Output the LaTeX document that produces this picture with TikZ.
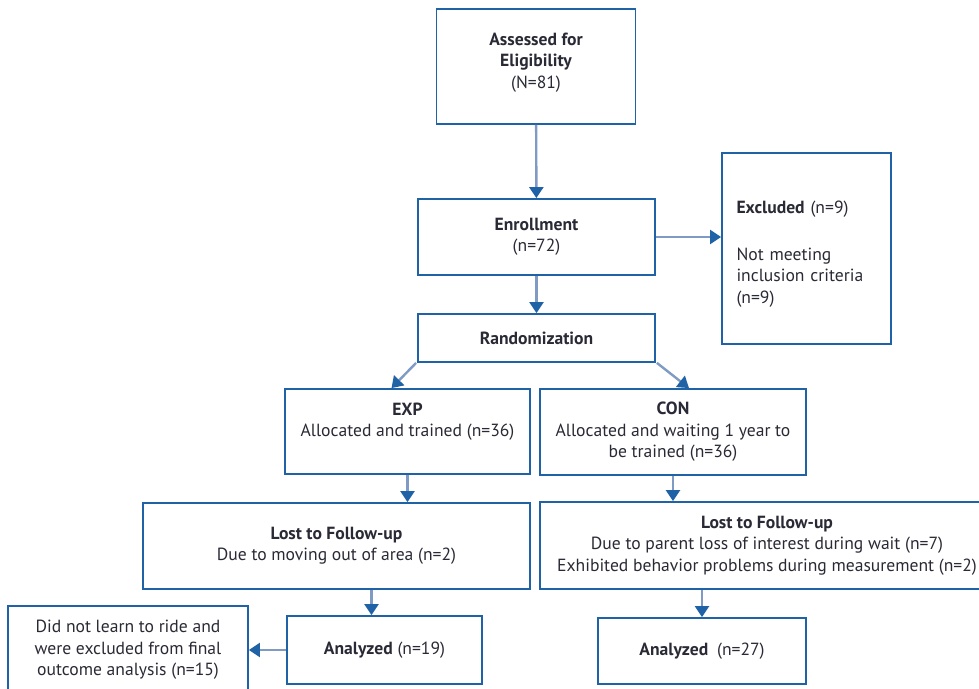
\documentclass[tikz,border=0pt]{standalone}
\usepackage{fontspec}
\setmainfont{PT Sans}
\usetikzlibrary{arrows.meta,calc}
\definecolor{boxblue}{HTML}{1F62A6}
\definecolor{lineblue}{HTML}{7F9BC4}
\definecolor{inkgrey}{HTML}{2A2A36}
\tikzset{
  box/.style={draw=boxblue,line width=1.8pt,align=center,text=inkgrey,
    font=\fontsize{17.6}{21.5}\selectfont,inner sep=2pt},
  flow/.style={draw=lineblue,line width=2.4pt,
    -{Triangle[width=14pt,length=11pt,color=boxblue]}}
}
\begin{document}
\begin{tikzpicture}[x=1pt,y=-1pt]
      \useasboundingbox (0,0) rectangle (979,688);
      \draw
        (536,66.5) node[box,minimum width=199pt,minimum height=115pt] (assess)
          {\textbf{Assessed for}\\\textbf{Eligibility}\\(N=81)\\[-10pt]}
        (536.5,237) node[box,minimum width=237pt,minimum height=76pt] (enroll)
          {\textbf{Enrollment}\\(n=72)}
        (806.5,248.5) node[box,minimum width=169pt,minimum height=191pt,
          text width=140pt,align=left] (excl)
          {\rule{0pt}{24pt}\textbf{Excluded} (n=9)\\[25pt]Not meeting\\inclusion criteria\\(n=9)}
        (536.5,338) node[box,minimum width=237pt,minimum height=48pt] (random)
          {\textbf{Randomization}}
        (407.5,431.5) node[box,minimum width=245pt,minimum height=85pt] (exp)
          {\textbf{EXP}\\Allocated and trained (n=36)\\[2pt]}
        (673,432) node[box,minimum width=266pt,minimum height=86pt] (con)
          {\textbf{CON}\\Allocated and waiting 1 year to\\be trained (n=36)}
        (336.5,546) node[box,minimum width=387pt,minimum height=86pt] (lostL)
          {\textbf{Lost to Follow-up}\\Due to moving out of area (n=2)}
        (767,545.5) node[box,minimum width=454pt,minimum height=87pt] (lostR)
          {\textbf{Lost to Follow-up}\\Due to parent loss of interest during wait (n=7)\\
           Exhibited behavior problems during measurement (n=2)}
        (384.5,650) node[box,minimum width=195pt,minimum height=68pt] (anaL)
          {\textbf{Analyzed} (n=19)}
        (702,651) node[box,minimum width=208pt,minimum height=66pt] (anaR)
          {\textbf{Analyzed}\enspace(n=27)}
        (128,650) node[box,minimum width=240pt,minimum height=88pt] (noride)
          {Did not learn to ride and\\were excluded from final\\outcome analysis (n=15)};
      \begin{scope}[flow]
        \draw (assess) to (enroll);
        \draw (enroll.east) to (enroll.east -| excl.west);
        \draw (enroll) to (random);
        \draw ([xshift=-1pt]random.south west) to ([xshift=-16pt]exp.north);
        \draw ([xshift=1pt]random.south east) to ([xshift=16pt]con.north);
        \draw (exp.south) to (exp.south |- lostL.north);
        \draw (con.south) to (con.south |- lostR.north);
        \draw ($(lostL.south -| anaL.north)+(-13,0)$) to ($(anaL.north)+(-13,0)$);
        \draw (anaR.north |- lostR.south) to (anaR.north);
        \draw (anaL.west) to (anaL.west -| noride.east);
      \end{scope}
    \end{tikzpicture}
\end{document}
